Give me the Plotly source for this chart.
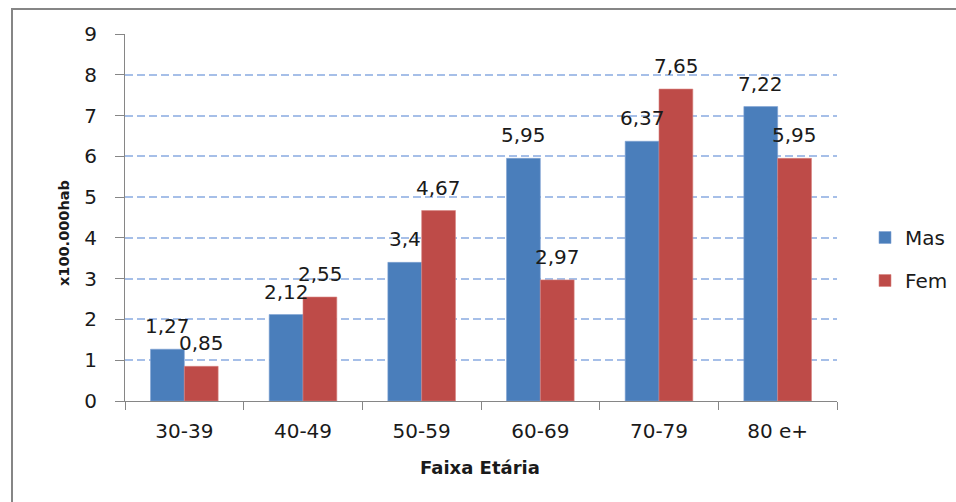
import plotly.graph_objects as go

# Taxa por 100.000 habitantes, por faixa etária e sexo
faixas = ["30-39", "40-49", "50-59", "60-69", "70-79", "80 e+"]
masculino = [1.27, 2.12, 3.4, 5.95, 6.37, 7.22]
feminino = [0.85, 2.55, 4.67, 2.97, 7.65, 5.95]
y_ticks = list(range(0, 10))

COR_MAS = "#4A7EBB"
COR_FEM = "#BE4B48"
FONTE = "DejaVu Sans"
TEXTO = "#1a1a1a"


def rotulo(v):
    s = f"{v:.2f}".rstrip("0").rstrip(".")
    return s.replace(".", ",")


fig = go.Figure()
fig.add_trace(go.Bar(
    name="Mas", x=faixas, y=masculino, marker_color=COR_MAS,
    marker_line=dict(color="#7FA3D3", width=0.6), legendgroup="m",
))
fig.add_trace(go.Bar(
    name="Fem", x=faixas, y=feminino, marker_color=COR_FEM,
    marker_line=dict(color="#D98582", width=0.6), legendgroup="f",
))

# Rótulos de dados acima de cada barra
annotations = []
for serie, dx in ((masculino, -17), (feminino, 17)):
    for cat, v in zip(faixas, serie):
        annotations.append(dict(
            x=cat, y=v, xref="x", yref="y", text=rotulo(v),
            showarrow=False, xshift=dx, yshift=23,
            xanchor="center", yanchor="middle",
            font=dict(family=FONTE, size=20, color=TEXTO),
        ))

# Títulos dos eixos
annotations.append(dict(
    x=(480 - 125) / 712, y=(401 - 467) / 367, xref="paper", yref="paper",
    text="<b>Faixa Etária</b>", showarrow=False,
    xanchor="center", yanchor="middle",
    font=dict(family=FONTE, size=18, color=TEXTO),
))
annotations.append(dict(
    x=(64 - 125) / 712, y=(401 - 233) / 367, xref="paper", yref="paper",
    text="<b>x100.000hab</b>", showarrow=False, textangle=-90,
    xanchor="center", yanchor="middle",
    font=dict(family=FONTE, size=14.5, color=TEXTO),
))

fig.update_layout(
    width=956, height=502,
    margin=dict(l=125, r=119, t=34, b=101, autoexpand=False),
    paper_bgcolor="white", plot_bgcolor="white",
    barmode="group", bargap=0.43, bargroupgap=0,
    font=dict(family=FONTE, size=20, color=TEXTO),
    annotations=annotations,
    showlegend=True,
    legend=dict(
        x=(865 - 125) / 712, y=(401 - 259) / 367, xanchor="left", yanchor="middle",
        font=dict(family=FONTE, size=20, color=TEXTO),
        tracegroupgap=14, bgcolor="rgba(0,0,0,0)",
    ),
    shapes=[dict(
        type="rect", xref="paper", yref="paper",
        x0=(12 - 125) / 712, x1=2, y0=-1, y1=(401 - 9) / 367,
        line=dict(color="#868686", width=2), fillcolor="rgba(0,0,0,0)",
        layer="below",
    )],
)

fig.update_xaxes(
    showline=True, linecolor="#868686", linewidth=1,
    ticks="outside", ticklen=8, tickcolor="#868686", tickson="boundaries",
    ticklabelstandoff=12, showgrid=False,
    tickfont=dict(family=FONTE, size=20, color=TEXTO),
)
fig.update_yaxes(
    range=[0, 9], tickvals=y_ticks, ticktext=[str(t) for t in y_ticks],
    showline=True, linecolor="#868686", linewidth=1,
    ticks="outside", ticklen=9, tickcolor="#868686",
    ticklabelstandoff=14, zeroline=False,
    showgrid=True, gridcolor="#A6BFE8", gridwidth=1.5, griddash="8px,4px",
    tickfont=dict(family=FONTE, size=20, color=TEXTO),
)

fig.write_html("out.html")
